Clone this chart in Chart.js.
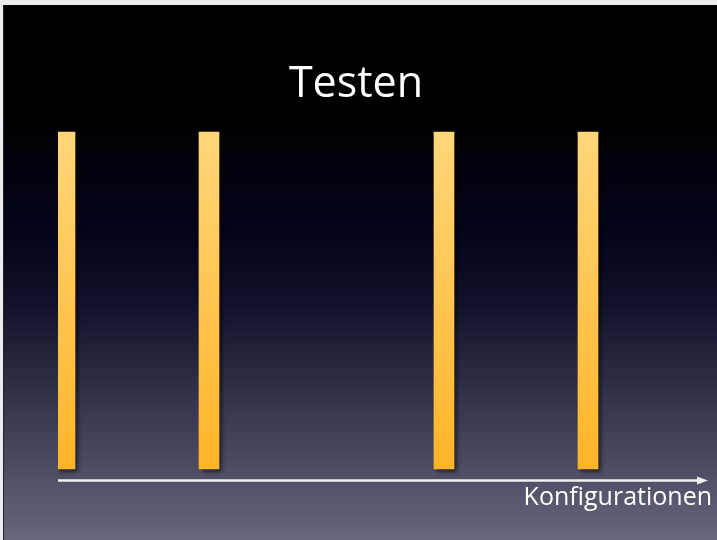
<!DOCTYPE html>
<html>
<head>
<meta charset="utf-8">
<script src="https://cdn.jsdelivr.net/npm/chart.js@4/dist/chart.umd.min.js"></script>
<style>
  html, body { margin: 0; padding: 0; background: #ececec; }
  canvas { display: block; }
</style>
</head>
<body>
<canvas id="chart" width="717" height="540"></canvas>
<script>
// four tested configurations, positions along the configuration axis
const configPositions = [7, 151, 386, 530];
const testValues = [1, 1, 1, 1];
const axisStart = 0;
const axisEnd = 650;
const titleText = "Testen";
const axisLabel = "Konfigurationen";

const points = configPositions.map((x, i) => ({ x: x, y: testValues[i] }));

// slide background: light frame, then dark-to-slate gradient
const slideBackground = {
  id: "slideBackground",
  beforeDraw(chart) {
    const ctx = chart.ctx;
    ctx.save();
    ctx.fillStyle = "#ececec";
    ctx.fillRect(0, 0, chart.width, chart.height);
    const g = ctx.createLinearGradient(0, 5, 0, chart.height);
    g.addColorStop(0, "#000000");
    g.addColorStop(0.2, "#000000");
    g.addColorStop(0.42, "#03031a");
    g.addColorStop(0.56, "#11112b");
    g.addColorStop(0.75, "#36374e");
    g.addColorStop(1, "#66677c");
    ctx.fillStyle = g;
    ctx.fillRect(3, 5, chart.width - 3, chart.height - 5);
    ctx.fillStyle = "#222230";
    ctx.fillRect(3, 5, 1, chart.height - 5);
    ctx.restore();
  },
};

// drop shadow under the bars
const barShadow = {
  id: "barShadow",
  beforeDatasetsDraw(chart) {
    const ctx = chart.ctx;
    ctx.save();
    ctx.shadowColor = "rgba(0,0,0,0.55)";
    ctx.shadowOffsetX = 3;
    ctx.shadowOffsetY = 3;
    ctx.shadowBlur = 4;
  },
  afterDatasetsDraw(chart) {
    chart.ctx.restore();
  },
};

// arrow along the configuration axis
const axisArrow = {
  id: "axisArrow",
  afterDraw(chart) {
    const ctx = chart.ctx;
    const xs = chart.scales.x;
    const y = chart.chartArea.bottom + 11.5;
    const start = xs.getPixelForValue(axisStart);
    const tip = xs.getPixelForValue(axisEnd);
    ctx.save();
    ctx.strokeStyle = "#f2f2f2";
    ctx.fillStyle = "#f2f2f2";
    ctx.lineWidth = 2.5;
    ctx.beginPath();
    ctx.moveTo(start, y);
    ctx.lineTo(tip - 8, y);
    ctx.stroke();
    ctx.beginPath();
    ctx.moveTo(tip, y);
    ctx.lineTo(tip - 11, y - 4);
    ctx.lineTo(tip - 11, y + 4);
    ctx.closePath();
    ctx.fill();
    ctx.restore();
  },
};

function barGradient(context) {
  const area = context.chart.chartArea;
  if (!area) return "#ffc24a";
  const g = context.chart.ctx.createLinearGradient(0, area.top, 0, area.bottom);
  g.addColorStop(0, "#ffd679");
  g.addColorStop(1, "#ffb428");
  return g;
}

new Chart(document.getElementById("chart"), {
  type: "bar",
  data: {
    datasets: [
      {
        label: titleText,
        data: points,
        backgroundColor: barGradient,
        borderWidth: 0,
        barThickness: 20,
        // bars are cut at the start of the axis
        clip: { left: -58, top: false, right: false, bottom: false },
      },
    ],
  },
  options: {
    responsive: false,
    animation: false,
    layout: {
      padding: { left: 0, right: 5, top: 0, bottom: 27 },
    },
    plugins: {
      legend: { display: false },
      tooltip: { enabled: false },
      title: {
        display: true,
        text: titleText,
        color: "#ffffff",
        font: { family: "Open Sans", size: 43, weight: "normal", lineHeight: 1.2 },
        padding: { top: 59, bottom: 21.4 },
      },
    },
    scales: {
      x: {
        type: "linear",
        min: -58,
        max: 654,
        offset: false,
        grid: { display: false, drawTicks: false },
        border: { display: false },
        ticks: { display: false },
        title: {
          display: true,
          text: axisLabel,
          align: "end",
          color: "#ffffff",
          font: { family: "Open Sans", size: 25, weight: "normal", lineHeight: 1.2 },
          padding: { top: 14, bottom: 0 },
        },
      },
      y: {
        display: false,
        min: 0,
        max: 1,
      },
    },
  },
  plugins: [slideBackground, barShadow, axisArrow],
});
</script>
</body>
</html>
